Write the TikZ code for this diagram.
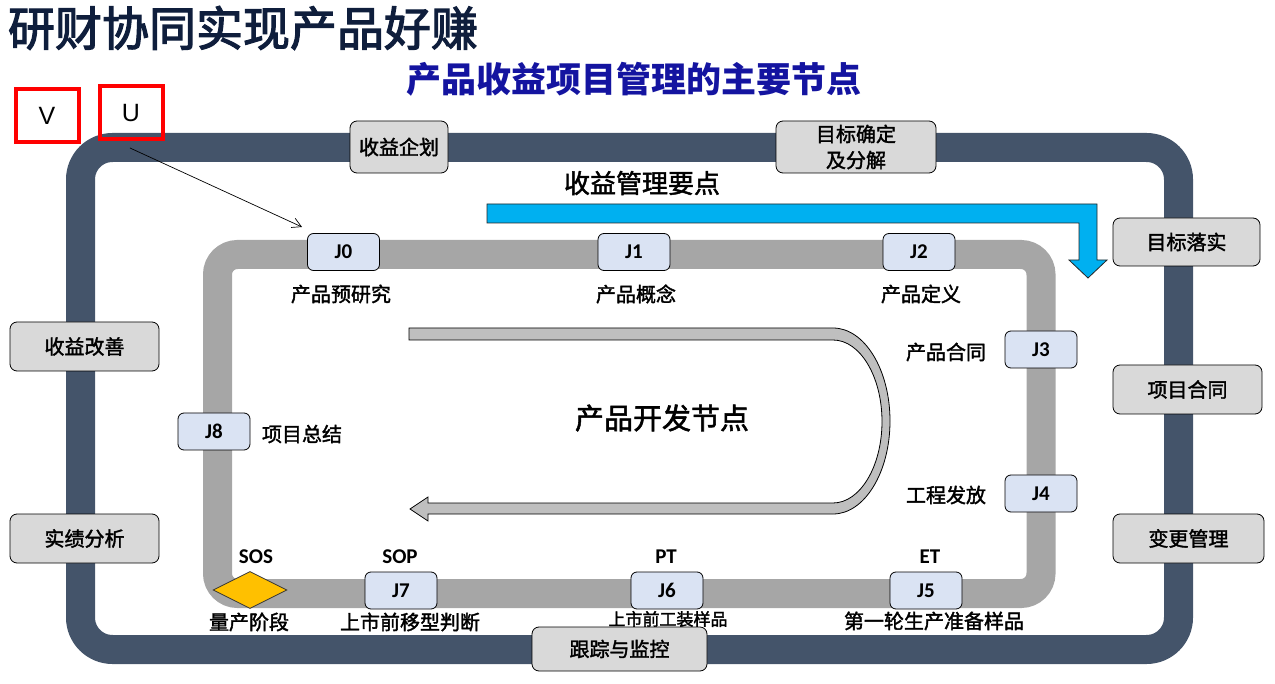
\documentclass[tikz,border=0pt]{standalone}
\usepackage{fontspec}
\setmainfont{Carlito}
\newfontfamily\cjk{Noto Sans CJK SC}[FakeBold=1.8]
\newfontfamily\cjkt{Noto Sans CJK SC}[FakeBold=2.5]
\newfontfamily\cjkb{Noto Sans CJK SC}
\newfontfamily\arial{Liberation Sans}
\usetikzlibrary{shapes.geometric,arrows.meta}
\definecolor{frame}{HTML}{44546A}
\definecolor{ring}{HTML}{A6A6A6}
\definecolor{boxg}{HTML}{D9D9D9}
\definecolor{jfill}{HTML}{DAE3F3}
\definecolor{gold}{HTML}{FFC000}
\definecolor{sky}{HTML}{00B0F0}
\definecolor{turn}{HTML}{BFBFBF}
\definecolor{titlec}{HTML}{0F1E3C}
\definecolor{subc}{HTML}{1414A0}
\tikzset{
  gbox/.style={draw=black, line width=0.8pt, fill=boxg, rounded corners=7pt,
    font=\cjk\fontsize{20}{24}\selectfont, align=center, inner sep=0pt},
  jbox/.style={draw=black, line width=0.8pt, fill=jfill, rounded corners=6pt,
    minimum width=72pt, minimum height=37pt, inner sep=0pt,
    font=\bfseries\fontsize{21}{24}\selectfont},
  lbl/.style={font=\cjk\fontsize{20}{22}\selectfont, inner sep=0pt},
  tag/.style={font=\bfseries\fontsize{21}{24}\selectfont, inner sep=0pt},
  redbox/.style={draw=red, line width=4pt, minimum width=63pt, minimum height=53pt,
    inner sep=0pt, font=\arial\fontsize{25}{28}\selectfont}
}
\begin{document}
\begin{tikzpicture}[x=1pt,y=-1pt]
\useasboundingbox (0,0) rectangle (1275,684);
% frames
\draw[frame, line width=29pt, rounded corners=32pt] (80.5,147.5) rectangle (1178.5,649.5);
\draw[ring, line width=29pt, rounded corners=20pt] (217.5,254.5) rectangle (1041,593.5);
% title
\node[font=\cjkt\fontsize{47}{50}\selectfont, text=titlec, inner sep=0pt] (title) at (243,28) {研财协同实现产品好赚};
\node[font=\cjkb\bfseries\fontsize{35}{38}\selectfont, text=subc, inner sep=0pt] (sub) at (634,79) {产品收益项目管理的主要节点};
% red boxes
\node[redbox] (V) at (47,115.5) {V};
\node[redbox] (U) at (131,113) {U};
\coordinate (a0) at (130,148);
\coordinate (a1) at (302,227);
\draw[-{Straight Barb[length=9pt,width=10pt]}, line width=0.7pt] (a0) -- (a1);
% blue arrow
\draw[fill=sky, draw=black!85, line width=0.8pt] (487,204) -- (1097,204) -- (1097,260) -- (1107,260) -- (1088,278) -- (1069,260) -- (1079,260) -- (1079,223) -- (487,223) -- cycle;
\node[font=\cjk\fontsize{26}{28}\selectfont, inner sep=0pt] (yd) at (642,183) {收益管理要点};
% U-turn arrow
\draw[fill=turn, draw=black, line width=0.8pt] (409,328) -- (833,328)
  .. controls (864.5,328) and (890,369.6) .. (890,421)
  .. controls (890,472.4) and (864.5,514) .. (833,514)
  -- (428,514) -- (428,521) -- (410,509) -- (428,497) -- (428,503) -- (833,503)
  .. controls (860,503) and (882,466.5) .. (882,421.5)
  .. controls (882,376.5) and (860,340) .. (833,340) -- (409,340) -- cycle;
\node[font=\cjk\fontsize{29}{31}\selectfont, inner sep=0pt] (kf) at (662,418) {产品开发节点};
% outer grey boxes
\node[gbox, minimum width=98pt, minimum height=52pt] (b1) at (399,147) {收益企划};
\node[gbox, minimum width=160pt, minimum height=52pt, font=\cjk\fontsize{20}{26}\selectfont] (b2) at (856,147) {目标确定\\及分解};
\node[gbox, minimum width=147pt, minimum height=48pt] (b3) at (1186.5,242) {目标落实};
\node[gbox, minimum width=149pt, minimum height=49pt] (b4) at (1187.5,389.5) {项目合同};
\node[gbox, minimum width=151pt, minimum height=49pt] (b5) at (1188.5,538.5) {变更管理};
\node[gbox, minimum width=149pt, minimum height=49pt] (b6) at (84.5,346.5) {收益改善};
\node[gbox, minimum width=149pt, minimum height=49pt] (b7) at (84.5,538.5) {实绩分析};
% J nodes
\node[jbox] (J0) at (343.5,252) {J0};
\node[jbox] (J1) at (634,252) {J1};
\node[jbox] (J2) at (919,252) {J2};
\node[jbox] (J3) at (1041,349.5) {J3};
\node[jbox] (J4) at (1041,493.5) {J4};
\node[jbox] (J5) at (926,590.5) {J5};
\node[jbox] (J6) at (667,590.5) {J6};
\node[jbox] (J7) at (401,590.5) {J7};
\node[jbox] (J8) at (214,431.5) {J8};
\node[diamond, draw=black!80, line width=0.8pt, fill=gold, minimum width=74pt, minimum height=37pt, aspect=2, inner sep=0pt] (sos) at (250,590) {};
% labels
\node[lbl] (l0) at (341,294) {产品预研究};
\node[lbl] (l1) at (636,294) {产品概念};
\node[lbl] (l2) at (921,294) {产品定义};
\node[lbl] (l3) at (946,352) {产品合同};
\node[lbl] (l4) at (946,495) {工程发放};
\node[lbl] (l8) at (302,434) {项目总结};
\node[lbl] (l5) at (934,621) {第一轮生产准备样品};
\node[lbl, font=\cjk\fontsize{17}{19}\selectfont] (l6) at (668,619) {上市前工装样品};
\node[lbl] (l7) at (410,622) {上市前移型判断};
\node[lbl] (ls) at (249,622) {量产阶段};
\node[tag] (tET) at (930,557) {ET};
\node[tag] (tPT) at (666,557) {PT};
\node[tag] (tSOP) at (400,557) {SOP};
\node[tag] (tSOS) at (256,557) {SOS};
% bottom box over label
\node[gbox, minimum width=175pt, minimum height=44pt] (b8) at (619.5,649) {跟踪与监控};
\end{tikzpicture}
\end{document}
